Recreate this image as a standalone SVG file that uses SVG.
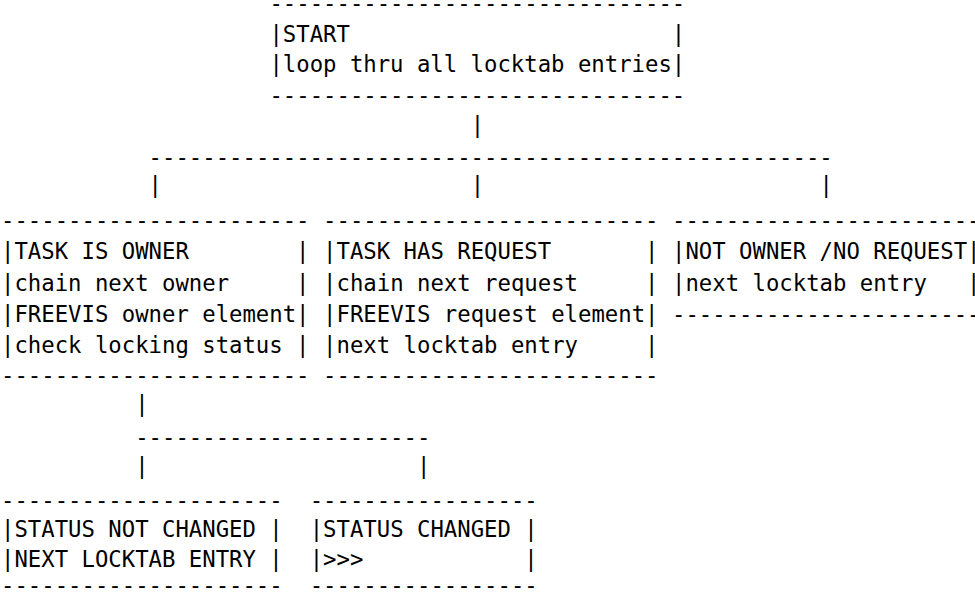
<svg xmlns="http://www.w3.org/2000/svg" width="975" height="597" viewBox="0 0 975 597">
<style>
.t{font-family:"DejaVu Sans Mono","Liberation Mono",monospace;font-size:22.29px;fill:#000;white-space:pre}
.c{font-family:"DejaVu Sans Mono","Liberation Mono",monospace;font-size:22.29px;fill:#000;white-space:pre}
</style>
<rect width="975" height="597" fill="#fff"/>
<g id="connectors">
<text class="c" x="470.7" y="133.3">|</text>
<text class="c" x="148.6" y="165.1" xml:space="preserve">---------------------------------------------------</text>
<text class="c" x="148.6" y="193.3">|</text>
<text class="c" x="470.7" y="193.3">|</text>
<text class="c" x="819.6" y="193.3">|</text>
<text class="c" x="135.2" y="411.6">|</text>
<text class="c" x="135.2" y="445.4" xml:space="preserve">----------------------</text>
<text class="c" x="135.2" y="474.1">|</text>
<text class="c" x="417.0" y="474.1">|</text>
</g>
<g id="node-start">
<text class="t" x="269.4" y="11.1" xml:space="preserve">-------------------------------</text>
<text class="t" x="269.4" y="41.7" xml:space="preserve">|START                        |</text>
<text class="t" x="269.4" y="71.7" xml:space="preserve">|loop thru all locktab entries|</text>
<text class="t" x="269.4" y="102.8" xml:space="preserve">-------------------------------</text>
</g>
<g id="node-owner">
<text class="t" x="1" y="227.8" xml:space="preserve">-----------------------</text>
<text class="t" x="1" y="259.3" xml:space="preserve">|TASK IS OWNER        |</text>
<text class="t" x="1" y="290.7" xml:space="preserve">|chain next owner     |</text>
<text class="t" x="1" y="321.7" xml:space="preserve">|FREEVIS owner element|</text>
<text class="t" x="1" y="353.3" xml:space="preserve">|check locking status |</text>
<text class="t" x="1" y="382.8" xml:space="preserve">-----------------------</text>
</g>
<g id="node-request">
<text class="t" x="323.1" y="227.8" xml:space="preserve">-------------------------</text>
<text class="t" x="323.1" y="259.3" xml:space="preserve">|TASK HAS REQUEST       |</text>
<text class="t" x="323.1" y="290.7" xml:space="preserve">|chain next request     |</text>
<text class="t" x="323.1" y="321.7" xml:space="preserve">|FREEVIS request element|</text>
<text class="t" x="323.1" y="353.3" xml:space="preserve">|next locktab entry     |</text>
<text class="t" x="323.1" y="382.8" xml:space="preserve">-------------------------</text>
</g>
<g id="node-none">
<text class="t" x="672" y="227.8" xml:space="preserve">-----------------------</text>
<text class="t" x="672" y="259.3" xml:space="preserve">|NOT OWNER /NO REQUEST|</text>
<text class="t" x="672" y="290.7" xml:space="preserve">|next locktab entry   |</text>
<text class="t" x="672" y="321.7" xml:space="preserve">-----------------------</text>
</g>
<g id="node-not-changed">
<text class="t" x="1" y="507.8" xml:space="preserve">---------------------</text>
<text class="t" x="1" y="536.7" xml:space="preserve">|STATUS NOT CHANGED |</text>
<text class="t" x="1" y="566.7" xml:space="preserve">|NEXT LOCKTAB ENTRY |</text>
<text class="t" x="1" y="592.8" xml:space="preserve">---------------------</text>
</g>
<g id="node-changed">
<text class="t" x="309.7" y="507.8" xml:space="preserve">-----------------</text>
<text class="t" x="309.7" y="536.7" xml:space="preserve">|STATUS CHANGED |</text>
<text class="t" x="309.7" y="566.7" xml:space="preserve">|&gt;&gt;&gt;            |</text>
<text class="t" x="309.7" y="592.8" xml:space="preserve">-----------------</text>
</g>
</svg>
